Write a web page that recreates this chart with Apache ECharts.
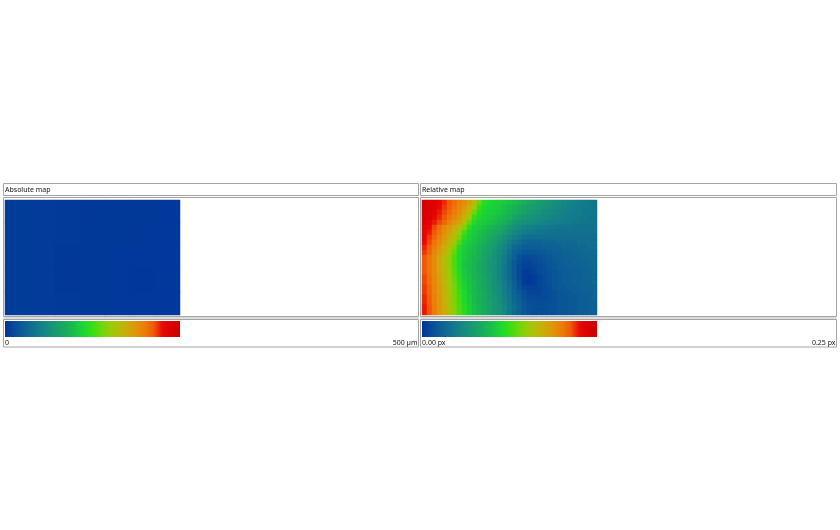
<!DOCTYPE html>
<html><head><meta charset="utf-8">
<style>html,body{margin:0;padding:0;background:#fff}#c{width:840px;height:530px}</style>
<script src="https://cdn.jsdelivr.net/npm/echarts@6/dist/echarts.min.js"></script>
</head><body><div id="c"></div>
<script>
const titles = ['Absolute map', 'Relative map'];
const absScaleLabels = ['0', '500 µm'];
const relScaleLabels = ['0.00 px', '0.25 px'];
const absMax = 500;
const relMax = 0.25;
const colormap = ['#003399','#064a98','#0c5c96','#106e90','#147e8a','#178e7c','#189e6c','#18ae5a','#1ac048','#1cd830','#3adc14','#6cd60c','#98cc08','#b4bc08','#ccaa08','#e09408','#ec7c08','#f05808','#e60a00','#dc0000','#c80000'];
// absolute map, µm
const absoluteMap = [
 [10,9,8,7,6,6,5],
 [10,9,8,6,6,5,5],
 [10,9,7,6,5,5,5],
 [10,9,7,6,5,4,5],
 [10,9,8,6,5,5,5]
];
// relative map, percent of the 0.25 px scale
const relativeMap = [
 [97,96,94,91,88,85,82,79,76,72,66,55,47,45,44,43,42,41,39,37,35,33,31,29,28,27,25,24,23,22,21,20,19,18,17],
 [97,95,93,90,87,84,81,78,74,69,61,50,45,44,43,42,40,38,36,34,32,30,29,28,27,26,24,23,22,21,20,19,18,18,17],
 [96,95,92,89,86,83,80,76,71,65,55,47,44,43,42,41,39,37,35,33,31,29,28,27,25,24,23,22,21,20,19,19,18,18,17],
 [96,94,91,88,85,81,78,74,68,60,49,45,43,42,41,39,37,35,32,30,28,27,26,25,24,23,22,21,20,19,19,18,18,17,17],
 [95,92,89,86,83,79,75,71,64,54,46,43,42,41,39,37,35,32,29,27,26,25,24,23,22,21,20,20,19,19,18,18,17,17,17],
 [93,90,86,82,78,74,70,65,57,47,43,42,40,38,36,34,32,28,26,24,22,21,20,19,19,18,18,17,17,17,16,16,16,16,16],
 [92,89,85,81,76,72,67,61,51,44,42,40,38,36,34,32,29,26,23,21,19,18,18,17,17,16,16,16,16,16,16,16,16,16,16],
 [91,87,83,79,74,69,64,56,47,43,41,39,37,34,32,29,26,23,20,18,16,15,15,15,15,15,15,15,15,15,15,15,15,15,15],
 [90,86,81,77,72,67,61,52,44,42,40,38,35,32,30,27,24,20,17,15,13,12,12,12,13,13,13,14,14,14,14,15,15,15,15],
 [88,84,80,75,70,64,57,47,43,41,39,36,33,31,28,25,22,18,14,12,10,10,10,10,11,11,12,12,13,13,14,14,14,15,15],
 [87,83,78,73,68,62,54,46,42,40,38,35,32,30,27,24,21,16,12,10,8,8,8,9,9,10,11,11,12,12,13,13,14,14,14],
 [85,81,76,71,65,59,52,45,42,39,37,35,32,29,26,23,19,15,11,7,5,5,6,7,8,9,10,11,11,12,12,13,13,14,14],
 [85,81,76,71,65,59,52,45,41,39,37,34,31,28,26,23,19,14,9,6,4,4,5,6,7,8,9,10,11,11,12,12,13,13,14],
 [85,81,76,71,65,59,52,45,41,39,37,34,31,28,26,22,18,14,9,5,3,3,4,5,6,8,9,10,10,11,11,12,12,13,13],
 [85,81,76,71,66,60,53,46,42,39,37,34,31,28,26,22,18,14,9,5,2,2,3,5,6,7,8,9,10,10,11,11,12,12,13],
 [86,82,77,72,66,60,54,47,42,40,37,35,32,29,26,22,18,14,9,5,2,1,2,4,5,7,8,9,10,10,11,11,12,12,13],
 [86,82,77,72,67,61,55,48,43,40,38,35,32,29,26,23,19,15,10,6,2,1,2,4,5,7,8,9,10,10,11,11,12,12,13],
 [87,83,78,73,68,62,56,49,44,41,38,35,32,29,27,24,20,16,11,7,4,3,3,4,5,6,8,9,9,10,10,11,11,12,12],
 [87,83,78,73,68,62,56,50,45,41,38,36,33,30,27,24,20,17,12,9,6,4,4,4,5,6,7,8,9,9,10,10,11,11,12],
 [88,84,79,74,69,63,57,51,45,42,39,36,33,30,28,25,21,17,13,10,7,5,5,5,5,6,7,8,8,9,9,10,10,11,12],
 [88,84,79,74,69,63,57,51,46,42,39,36,33,31,28,25,22,18,14,11,8,6,6,5,6,6,7,8,8,9,9,10,10,11,11],
 [89,85,80,75,70,64,58,52,47,43,40,37,34,31,28,26,23,19,15,12,9,7,6,6,6,7,7,8,8,9,9,10,10,11,11],
 [89,85,80,75,70,64,58,52,47,43,40,37,34,31,28,26,23,18,14,11,9,7,6,6,6,7,7,8,8,9,9,10,10,11,11]
];

const cells = (m, k) => m.flatMap((row, r) => row.map((v, c) => [c, r, v * k]));
const idx = n => Array.from({length: n}, (_, i) => i);
const font = '"Noto Sans"';
const pan = [
 {x: 3.5, r: 418.5, map: 5},
 {x: 420.5, r: 836.5, map: 422}
];
const box = (x, y, w, h) => ({type: 'rect', silent: true, shape: {x, y, width: w, height: h}, style: {fill: 'none', stroke: '#a4a4a4', lineWidth: 1}});
const txt = (x, y, t, align) => ({type: 'text', silent: true, style: {x, y, text: t, fill: '#111', font: '7px ' + font, align: align || 'left', verticalAlign: 'middle'}});
const sets = [
 {m: absoluteMap, k: 1, max: absMax, labels: absScaleLabels},
 {m: relativeMap, k: relMax / 100, max: relMax, labels: relScaleLabels}
];
const ramp = {type: 'linear', x: 0, y: 0, x2: 1, y2: 0, colorStops: colormap.map((color, i) => ({offset: i / (colormap.length - 1), color}))};
const elements = [];
pan.forEach((p, i) => {
  const w = p.r - p.x;
  elements.push(box(p.x, 183.5, w, 12), box(p.x, 197.5, w, 119), box(p.x, 319.5, w, 27.5));
  elements.push({type: 'rect', silent: true, shape: {x: p.x, y: 317, width: w, height: 2}, style: {fill: '#dcdcdc'}});
  elements.push({type: 'rect', silent: true, shape: {x: p.map, y: 321, width: 175, height: 16}, style: {fill: ramp}});
  elements.push(txt(p.x + 1.5, 190, titles[i]));
  elements.push(txt(p.x + 1.5, 342.5, sets[i].labels[0]));
  elements.push(txt(p.r - 1, 342.5, sets[i].labels[1], 'right'));
});

const chart = echarts.init(document.getElementById('c'), null, {renderer: 'canvas'});
chart.setOption({
  animation: false,
  backgroundColor: '#fff',
  grid: pan.map(p => ({left: p.map, top: 200, width: 175, height: 115, show: false})),
  xAxis: sets.map((s, i) => ({type: 'category', gridIndex: i, data: idx(s.m[0].length), show: false})),
  yAxis: sets.map((s, i) => ({type: 'category', gridIndex: i, data: idx(s.m.length), inverse: true, show: false})),
  visualMap: sets.map((s, i) => ({
    type: 'continuous', seriesIndex: i, min: 0, max: s.max, show: false, inRange: {color: colormap}
  })),
  series: sets.map((s, i) => ({
    type: 'heatmap', xAxisIndex: i, yAxisIndex: i, data: cells(s.m, s.k), silent: true,
    progressive: 0, itemStyle: {borderWidth: 0}, emphasis: {disabled: true}
  })),
  graphic: {elements}
});
</script></body></html>
